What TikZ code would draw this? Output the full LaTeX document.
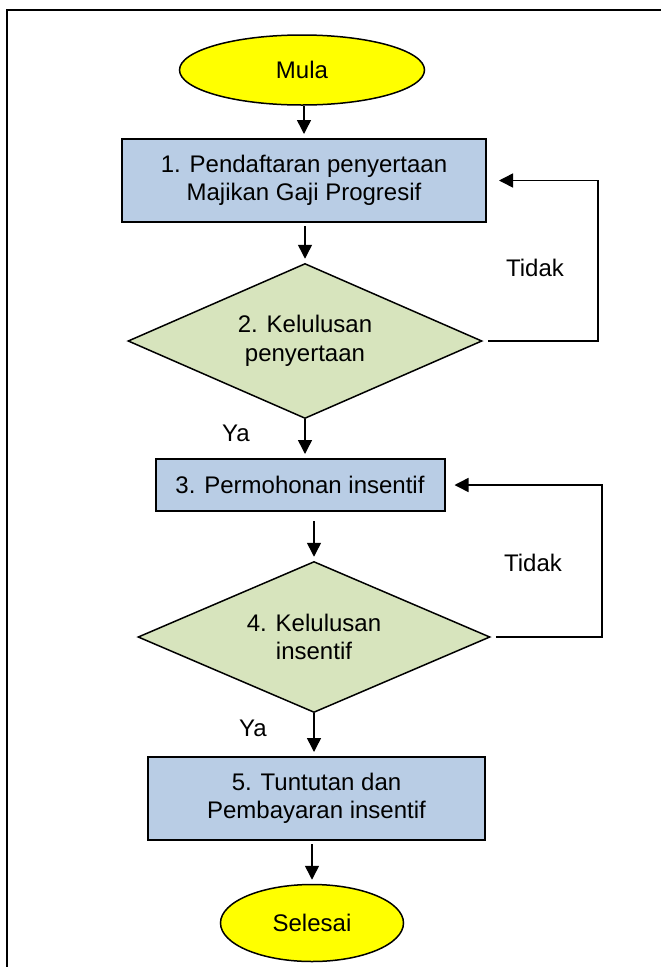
\documentclass[tikz,border=0pt]{standalone}
\usepackage{fontspec}
\setmainfont{Liberation Sans}
\usetikzlibrary{shapes.geometric,arrows.meta}
\definecolor{kotak}{HTML}{B9CDE5}
\definecolor{semak}{HTML}{D7E4BD}
\definecolor{mulaan}{HTML}{FFFF00}
\tikzset{
  proses/.style={rectangle, draw=black, line width=2pt, fill=kotak, align=center},
  keputusan/.style={diamond, draw=black, line width=1.5pt, fill=semak, align=center, shape aspect=2.3},
  terminal/.style={ellipse, draw=black, line width=1.5pt, fill=mulaan},
  anak/.style={line width=1.5pt, -{Triangle[length=14pt,width=14pt]}, shorten <=3pt, shorten >=4pt}
}
\begin{document}
\begin{tikzpicture}[x=1pt, y=-1pt, every node/.style={font=\fontsize{24}{28.5}\selectfont, inner sep=0pt}]
\useasboundingbox (0,0) rectangle (661,967);
% bingkai
\draw [line width=2pt] (7,967) -- (7,10) -- (661,10);
% nod
\node [terminal, minimum width=245pt, minimum height=70pt] (mula) at (302,70) {Mula};
\node [proses, minimum width=364pt, minimum height=83pt] (b1) at (304,180.5) {1. Pendaftaran penyertaan\\Majikan Gaji Progresif};
\node [keputusan, minimum width=354pt, minimum height=155pt] (d1) at (305,341) {2. Kelulusan\\penyertaan};
\node [proses, minimum width=289pt, minimum height=52pt] (b3) at (300,485) {3. Permohonan insentif};
\node [keputusan, minimum width=352pt, minimum height=151pt] (d2) at (314,637) {4. Kelulusan\\insentif};
\node [proses, minimum width=337pt, minimum height=83pt] (b5) at (316.5,798.5) {5. Tuntutan dan\\Pembayaran insentif};
\node [terminal, minimum width=183pt, minimum height=77pt] (selesai) at (312,923) {Selesai};
\node (tidak1) at (535,268) {Tidak};
\node (tidak2) at (533,563) {Tidak};
\node (ya1) at (236,433) {Ya};
\node (ya2) at (253,728) {Ya};
\coordinate (r1) at (598,341);
\coordinate (r2) at (602,637);
% anak panah
\draw [anak, shorten <=0pt] (mula.south -| b1.north) -- (b1.north);
\draw [anak] (b1.south -| d1.north) -- (d1.north);
\draw [anak, shorten <=0pt] (d1.south) -- (d1.south |- b3.north);
\draw [anak, shorten <=9pt] (b3.south -| d2.north) -- (d2.north);
\draw [anak, shorten <=0pt] (d2.south) -- (d2.south |- b5.north);
\draw [anak] (b5.south -| selesai.north) -- (selesai.north);
\draw [anak, shorten <=5pt, shorten >=12pt] (d1.east) -- (r1) |- (b1.east);
\draw [anak, shorten <=5pt, shorten >=9pt] (d2.east) -- (r2) |- (b3.east);
\end{tikzpicture}
\end{document}
